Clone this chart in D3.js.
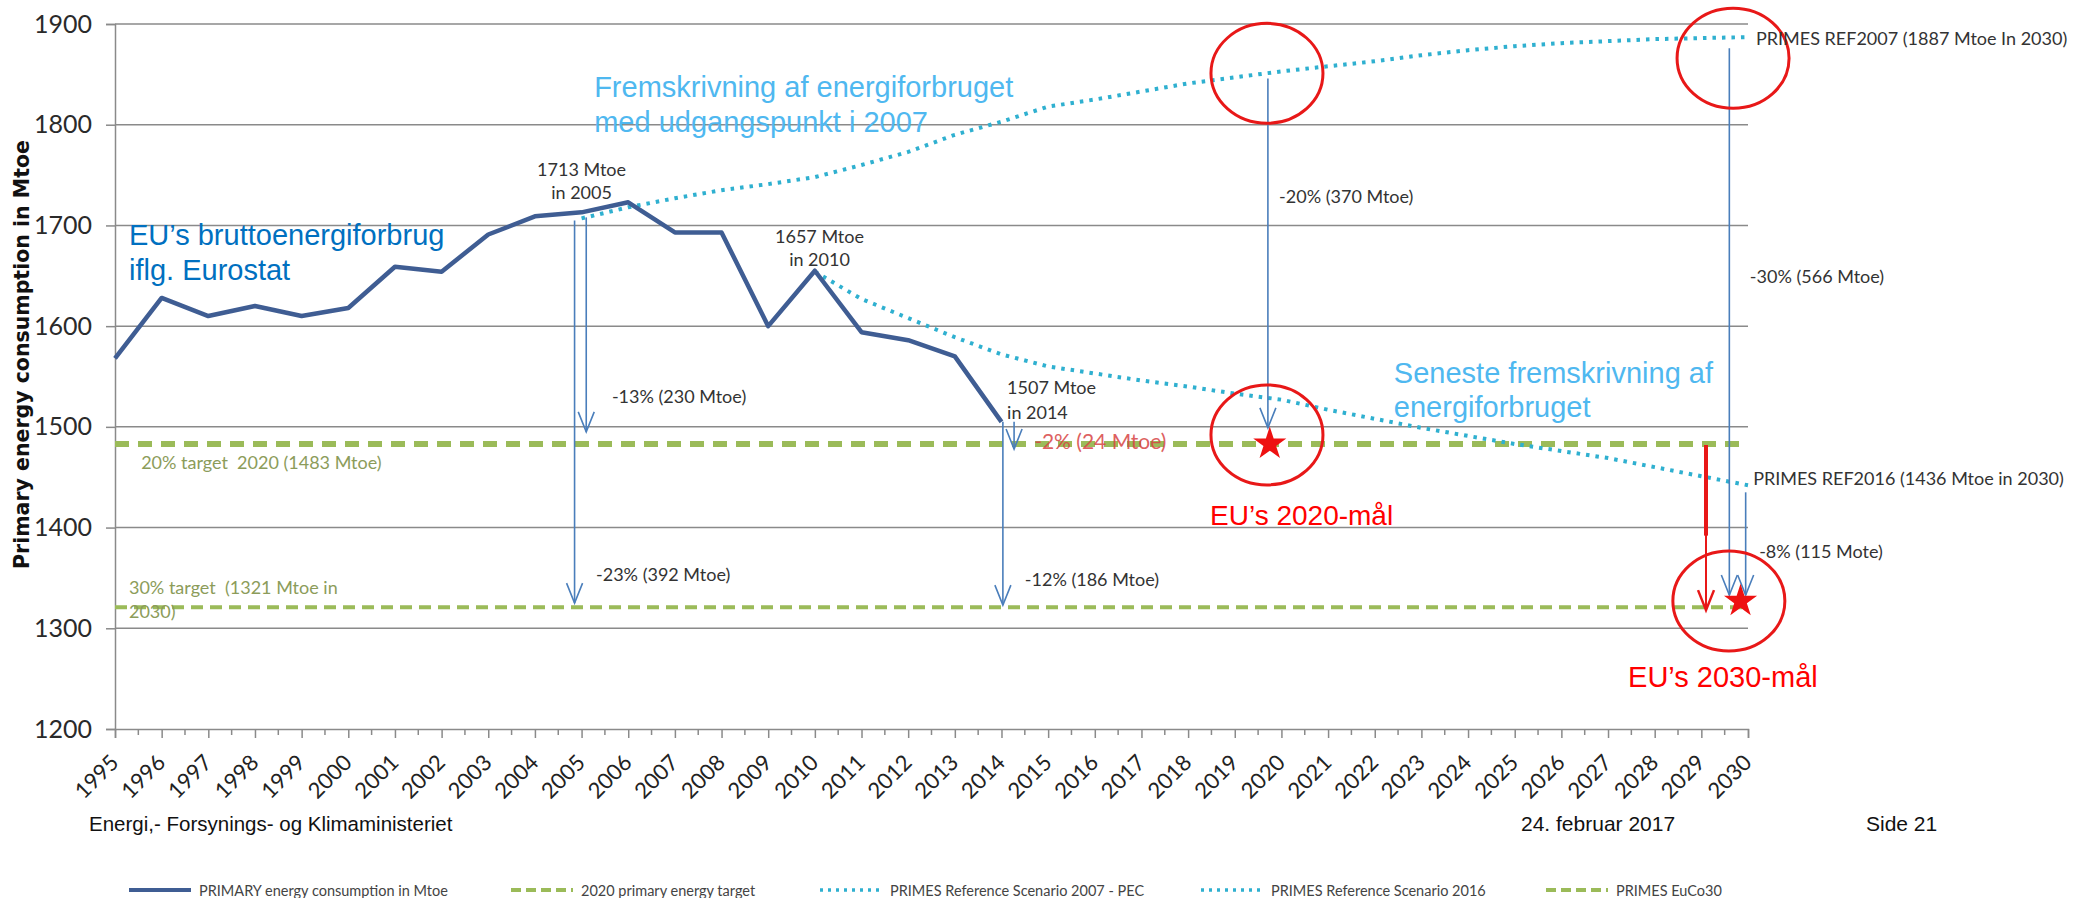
<!DOCTYPE html>
<html>
<head>
<meta charset="utf-8">
<script src="https://cdn.jsdelivr.net/npm/d3@7/dist/d3.min.js"></script>
<style>
  html, body { margin: 0; padding: 0; background: #fff; }
  svg { display: block; }
  text { white-space: pre; }
</style>
</head>
<body>
<svg id="chart" width="2083" height="898"></svg>
<script>
// ── Data ──────────────────────────────────────────────────────────────────
const YEAR_LABELS = [1995, 1996, 1997, 1998, 1999, 2000, 2001, 2002, 2003, 2004, 2005, 2006,
  2007, 2008, 2009, 2010, 2011, 2012, 2013, 2014, 2015, 2016, 2017, 2018, 2019, 2020,
  2021, 2022, 2023, 2024, 2025, 2026, 2027, 2028, 2029, 2030];
const Y_TICKS = [1200, 1300, 1400, 1500, 1600, 1700, 1800, 1900];

const primaryYears  = [1995, 1996, 1997, 1998, 1999, 2000, 2001, 2002, 2003, 2004,
  2005, 2006, 2007, 2008, 2009, 2010, 2011, 2012, 2013, 2014];
const primaryValues = [1568, 1628, 1610, 1620, 1610, 1618, 1659, 1654, 1691, 1709,
  1713, 1723, 1693, 1693, 1600, 1655, 1594, 1586, 1570, 1505];

const ref2007Years  = [2005, 2006, 2007, 2008, 2009, 2010, 2011, 2012, 2013, 2014, 2015, 2016, 2017,
  2018, 2019, 2020, 2021, 2022, 2023, 2024, 2025, 2026, 2027, 2028, 2029, 2030];
const ref2007Values = [1707, 1718, 1727, 1735, 1741, 1748, 1760, 1773, 1790, 1803, 1818, 1825, 1833,
  1841, 1847, 1853, 1858, 1863, 1869, 1874, 1878, 1881, 1883, 1885, 1886, 1887];

const ref2016Years  = [2010, 2011, 2012, 2013, 2014, 2015, 2016, 2017, 2018, 2019, 2020,
  2021, 2022, 2023, 2024, 2025, 2026, 2027, 2028, 2029, 2030];
const ref2016Values = [1654, 1627, 1608, 1589, 1572, 1560, 1553, 1546, 1540, 1533, 1527,
  1517, 1508, 1499, 1491, 1483, 1476, 1469, 1460, 1451, 1442];

const target2020   = 1483;
const targetEuCo30 = 1321;

// arrows: x in years, from / to in Mtoe
const ARROWS = [
  { x: 2004.85, from: 1705, to: 1325, red: false },
  { x: 2005.1,  from: 1708, to: 1495, red: false },
  { x: 2014.03, from: 1505, to: 1323, red: false },
  { x: 2014.27, from: 1505, to: 1478, red: false },
  { x: 2019.71, from: 1846, to: 1499, red: false },
  { x: 2029.6,  from: 1876, to: 1333, red: false },
  { x: 2029.95, from: 1435, to: 1333, red: false },
  { x: 2029.1,  from: 1482, to: 1318, red: true }
];

const RINGS = [
  { x: 2019.69, v: 1851 }, { x: 2019.69, v: 1492 },
  { x: 2029.68, v: 1866 }, { x: 2029.59, v: 1327 }
];
const STARS = [ { x: 2019.75, v: 1483 }, { x: 2029.84, v: 1327 } ];

// small chart notes
const NOTES = [
  { x: 2005,    v: 1749, t: '1713 Mtoe', a: 'middle' },
  { x: 2005,    v: 1726, t: 'in 2005', a: 'middle' },
  { x: 2010.1,  v: 1683, t: '1657 Mtoe', a: 'middle' },
  { x: 2010.1,  v: 1660, t: 'in 2010', a: 'middle' },
  { x: 2014.12, v: 1533, t: '1507 Mtoe', a: 'start' },
  { x: 2014.12, v: 1508, t: 'in 2014', a: 'start' },
  { x: 2005.65, v: 1524, t: '-13% (230 Mtoe)', a: 'start' },
  { x: 2005.31, v: 1347, t: '-23% (392 Mtoe)', a: 'start' },
  { x: 2014.5,  v: 1342, t: '-12% (186 Mtoe)', a: 'start' },
  { x: 2019.95, v: 1722, t: '-20% (370 Mtoe)', a: 'start' },
  { x: 2030.04, v: 1643, t: '-30% (566 Mtoe)', a: 'start' },
  { x: 2030.24, v: 1370, t: '-8% (115 Mote)', a: 'start' },
  { x: 2030.17, v: 1879, t: 'PRIMES REF2007 (1887 Mtoe In 2030)', a: 'start' },
  { x: 2030.11, v: 1442, t: 'PRIMES REF2016 (1436 Mtoe in 2030)', a: 'start' }
];
const TARGET_NOTES = [
  { x: 1995.56, v: 1458, t: '20% target  2020 (1483 Mtoe)' },
  { x: 1995.3,  v: 1334, t: '30% target  (1321 Mtoe in' },
  { x: 1995.3,  v: 1310, t: '2030)' }
];
// big Danish call-outs
const CALLOUTS = [
  { x: 1995.3,  v: 1681, t: 'EU\u2019s bruttoenergiforbrug', c: '#0070c0', s: 29 },
  { x: 1995.3,  v: 1646, t: 'iflg. Eurostat', c: '#0070c0', s: 29 },
  { x: 2005.27, v: 1828, t: 'Fremskrivning af energiforbruget', c: '#4fb8f0', s: 29 },
  { x: 2005.27, v: 1793, t: 'med udgangspunkt i 2007', c: '#4fb8f0', s: 29 },
  { x: 2022.41, v: 1544, t: 'Seneste fremskrivning af', c: '#4fb8f0', s: 29 },
  { x: 2022.41, v: 1510, t: 'energiforbruget', c: '#4fb8f0', s: 29 },
  { x: 2018.47, v: 1403, t: 'EU\u2019s 2020-mål', c: '#ff0000', s: 28 },
  { x: 2027.43, v: 1242, t: 'EU\u2019s 2030-mål', c: '#ff0000', s: 29 }
];

const LEGEND = [
  { label: 'PRIMARY energy consumption in Mtoe',   kind: 'solid', x: 129 },
  { label: '2020 primary energy target',           kind: 'dash',  x: 511 },
  { label: 'PRIMES Reference Scenario 2007 - PEC', kind: 'dot',   x: 820 },
  { label: 'PRIMES Reference Scenario 2016',       kind: 'dot',   x: 1201 },
  { label: 'PRIMES EuCo30',                        kind: 'dash',  x: 1546 }
];

// ── Chart ─────────────────────────────────────────────────────────────────
const FONT  = 'Lato, "Open Sans", sans-serif';
const ARIAL = '"Liberation Sans", Arial, sans-serif';
const C_PRIMARY = '#3f5d93';
const C_ARROW = '#4a7ebb';
const C_RED = '#e81818';
const C_DOT = '#2fb0d0';
const C_GREEN = '#9bbb59';
const C_GRID = '#8a8a8a';

const svg = d3.select('#chart');
svg.append('rect').attr('width', 2083).attr('height', 898).attr('fill', '#fff');

const x = d3.scaleLinear().domain([1995, 2030]).range([115, 1748]);
const y = d3.scaleLinear().domain([1200, 1900]).range([729, 24]);

// grid
svg.append('g').selectAll('line').data(Y_TICKS.filter(d => d > 1200)).join('line')
  .attr('x1', x(1995)).attr('x2', x(2030))
  .attr('y1', d => y(d)).attr('y2', d => y(d))
  .attr('stroke', C_GRID).attr('stroke-width', 1.5);

// y axis
const yAxis = svg.append('g').attr('transform', `translate(${x(1995)},0)`)
  .call(d3.axisLeft(y).tickValues(Y_TICKS).tickSize(9).tickPadding(14).tickFormat(d3.format('d')));
yAxis.select('.domain').attr('stroke', C_GRID).attr('stroke-width', 1.5);
yAxis.selectAll('.tick line').attr('stroke', C_GRID).attr('stroke-width', 1.5);
yAxis.selectAll('text').attr('font-family', FONT).attr('font-size', 25).attr('fill', '#2a2a2a');

// x axis: long ticks on years, short ticks in between
const xAxis = svg.append('g').attr('transform', `translate(0,${y(1200)})`)
  .call(d3.axisBottom(x).tickValues(YEAR_LABELS).tickSize(9).tickFormat(''));
xAxis.select('.domain').attr('stroke', C_GRID).attr('stroke-width', 1.5);
xAxis.selectAll('.tick line').attr('stroke', C_GRID).attr('stroke-width', 1.5);
svg.append('g').selectAll('line').data(YEAR_LABELS.slice(1)).join('line')
  .attr('x1', d => x(d - 0.5)).attr('x2', d => x(d - 0.5))
  .attr('y1', y(1200)).attr('y2', y(1200) + 6)
  .attr('stroke', C_GRID).attr('stroke-width', 1.5);

svg.append('g').selectAll('text').data(YEAR_LABELS).join('text')
  .attr('transform', d => `translate(${x(d) - 1},${y(1200) + 29}) rotate(-45)`)
  .attr('text-anchor', 'end')
  .attr('dominant-baseline', 'central')
  .attr('font-family', FONT).attr('font-size', 22).attr('fill', '#222')
  .text(d => d);

// y title
svg.append('text')
  .attr('transform', `translate(22,${(y(1900) + y(1200)) / 2 - 22}) rotate(-90)`)
  .attr('text-anchor', 'middle').attr('dominant-baseline', 'central')
  .attr('font-family', '"DejaVu Sans", Verdana, sans-serif').attr('font-weight', 'bold')
  .attr('font-size', 20.5).attr('fill', '#111')
  .text('Primary energy consumption in Mtoe');

// target lines
svg.append('line')
  .attr('x1', x(1995)).attr('x2', x(2030)).attr('y1', y(target2020)).attr('y2', y(target2020))
  .attr('stroke', C_GREEN).attr('stroke-width', 6).attr('stroke-dasharray', '14 9');
svg.append('line')
  .attr('x1', x(1995)).attr('x2', x(2030)).attr('y1', y(targetEuCo30)).attr('y2', y(targetEuCo30))
  .attr('stroke', C_GREEN).attr('stroke-width', 4).attr('stroke-dasharray', '12 7');

// series
const line = d3.line().x(d => x(d[0])).y(d => y(d[1]));
svg.append('path').datum(d3.zip(ref2007Years, ref2007Values)).attr('d', line)
  .attr('fill', 'none').attr('stroke', C_DOT).attr('stroke-width', 4)
  .attr('stroke-dasharray', '3.5 6');
svg.append('path').datum(d3.zip(ref2016Years, ref2016Values)).attr('d', line)
  .attr('fill', 'none').attr('stroke', C_DOT).attr('stroke-width', 4)
  .attr('stroke-dasharray', '3.5 6');
svg.append('path').datum(d3.zip(primaryYears, primaryValues)).attr('d', line)
  .attr('fill', 'none').attr('stroke', C_PRIMARY).attr('stroke-width', 4.5)
  .attr('stroke-linejoin', 'round');

// arrows
const arrowG = svg.append('g');
ARROWS.forEach(function (a) {
  const col = a.red ? C_RED : C_ARROW;
  const x0 = x(a.x), y0 = y(a.from), y1 = y(a.to);
  if (a.red) {
    arrowG.append('line').attr('x1', x0).attr('x2', x0).attr('y1', y0).attr('y2', y(1392))
      .attr('stroke', col).attr('stroke-width', 4);
  }
  arrowG.append('line').attr('x1', x0).attr('x2', x0).attr('y1', y0).attr('y2', y1)
    .attr('stroke', col).attr('stroke-width', a.red ? 2 : 1.6);
  arrowG.append('path')
    .attr('d', `M${x0 - 8},${y1 - 20} L${x0},${y1} L${x0 + 8},${y1 - 20}`)
    .attr('fill', 'none').attr('stroke', col).attr('stroke-width', a.red ? 2.5 : 1.6);
});

// stars
svg.append('g').selectAll('path').data(STARS).join('path')
  .attr('transform', d => `translate(${x(d.x)},${y(d.v)})`)
  .attr('d', d3.symbol(d3.symbolStar, 340))
  .attr('fill', '#ee1111');

// rings
svg.append('g').selectAll('ellipse').data(RINGS).join('ellipse')
  .attr('cx', d => x(d.x)).attr('cy', d => y(d.v)).attr('rx', 56).attr('ry', 50)
  .attr('fill', 'none').attr('stroke', C_RED).attr('stroke-width', 3);

// notes
svg.append('g').selectAll('text').data(NOTES).join('text')
  .attr('x', d => x(d.x)).attr('y', d => y(d.v))
  .attr('text-anchor', d => d.a)
  .attr('font-family', FONT).attr('font-size', 18).attr('fill', '#333')
  .text(d => d.t);

svg.append('text')
  .attr('x', x(2014.7)).attr('y', y(target2020) + 5)
  .attr('font-family', FONT).attr('font-size', 21).attr('fill', '#d84545').attr('opacity', 0.85)
  .text('-2% (24 Mtoe)');

svg.append('g').selectAll('text').data(TARGET_NOTES).join('text')
  .attr('x', d => x(d.x)).attr('y', d => y(d.v))
  .attr('font-family', FONT).attr('font-size', 18).attr('fill', '#8c9c5a')
  .text(d => d.t);

svg.append('g').selectAll('text').data(CALLOUTS).join('text')
  .attr('x', d => x(d.x)).attr('y', d => y(d.v))
  .attr('font-family', ARIAL).attr('font-size', d => d.s).attr('fill', d => d.c)
  .text(d => d.t);

// footer
const footer = svg.append('g').attr('font-family', ARIAL).attr('fill', '#111');
footer.append('text').attr('x', 89).attr('y', 831).attr('font-size', 20.5)
  .text('Energi,- Forsynings- og Klimaministeriet');
footer.append('text').attr('x', 1521).attr('y', 831).attr('font-size', 21).text('24. februar 2017');
footer.append('text').attr('x', 1866).attr('y', 831).attr('font-size', 21).text('Side 21');

// legend
const lg = svg.append('g').attr('transform', 'translate(0,890)');
LEGEND.forEach(function (d) {
  const sw = lg.append('line').attr('x1', d.x).attr('x2', d.x + 62).attr('y1', 0).attr('y2', 0);
  if (d.kind === 'solid') sw.attr('stroke', C_PRIMARY).attr('stroke-width', 4);
  if (d.kind === 'dash') sw.attr('stroke', C_GREEN).attr('stroke-width', 4).attr('stroke-dasharray', '10 5');
  if (d.kind === 'dot') sw.attr('stroke', C_DOT).attr('stroke-width', 3.5).attr('stroke-dasharray', '3 5');
  lg.append('text').attr('x', d.x + 70).attr('y', 0).attr('dominant-baseline', 'central')
    .attr('font-family', FONT).attr('font-size', 14.5).attr('fill', '#444')
    .text(d.label);
});
</script>
</body>
</html>
